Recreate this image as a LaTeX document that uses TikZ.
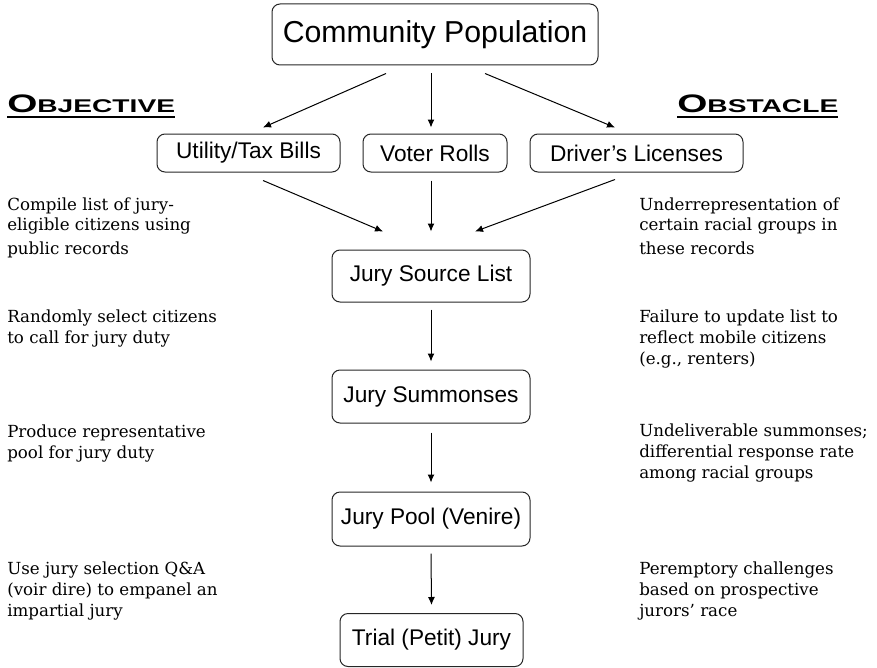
\documentclass[tikz,border=0pt]{standalone}
\usepackage{fontspec}
\usepackage{graphicx}
\setmainfont{DejaVu Serif}
\newfontfamily\boxfont{Liberation Sans}
\usetikzlibrary{arrows.meta,calc}

\newdimen\px \px=0.75pt
% underlined wide small-caps heading
\newcommand\headline[2]{\setbox0\hbox{\scalebox{1.53}[1]{\boxfont\bfseries\fontsize{19}{19}\selectfont #1\fontsize{13.8}{14}\selectfont #2}}%
  \rlap{\rule[-5.5\px]{\wd0}{2\px}}\box0}

\tikzset{
  stage/.style={draw=black!85, line width=1\px, rounded corners=8\px, inner sep=0pt,
    font=\boxfont\fontsize{17}{20}\selectfont},
  note/.style={anchor=base west, align=left, inner sep=0pt,
    font=\fontsize{12.5}{15.4}\selectfont},
  heading/.style={anchor=base west, inner sep=0pt},
  flow/.style={-{Latex[length=6pt,width=5.25pt]}, line width=0.75pt},
}

\begin{document}
\begin{tikzpicture}[x=1\px, y=-1\px]
        \useasboundingbox (0,0) rectangle (877,667);

        \node[stage, minimum width=326\px, minimum height=61\px, font=\boxfont\fontsize{22.7}{26}\selectfont] at (435, 34.5)(cp){Community Population};
        \node[stage, minimum width=183\px, minimum height=38\px] at (248.5, 153)(ut){Utility/Tax Bills};
        \node[stage, minimum width=144\px, minimum height=38\px] at (435, 153)(vr){Voter Rolls};
        \node[stage, minimum width=213\px, minimum height=38\px] at (636.5, 153)(dl){Driver’s Licenses};
        \node[stage, minimum width=198\px, minimum height=52\px] at (431, 276)(sl){Jury Source List};
        \node[stage, minimum width=198\px, minimum height=53\px] at (431, 396.5)(su){Jury Summonses};
        \node[stage, minimum width=198\px, minimum height=54\px] at (431, 519)(po){Jury Pool (Venire)};
        \node[stage, minimum width=183\px, minimum height=53\px] at (431.5, 640)(tr){Trial (Petit) Jury};

        \node[heading] at (7, 113)(objective){\headline{O}{BJECTIVE}};
        \node[heading] at (677, 113)(obstacle){\headline{O}{BSTACLE}};

        % base anchor sits on the last line
        \node[note] at (7, 254)(goal1){Compile list of jury-\\eligible citizens using\\[2pt]public records};
        \node[note] at (7, 343.5)(goal2){Randomly select citizens\\to call for jury duty};
        \node[note] at (7, 458.5)(goal3){Produce representative\\pool for jury duty};
        \node[note] at (7, 616)(goal4){Use jury selection Q\&A\\(voir dire) to empanel an\\impartial jury};

        \node[note] at (639, 254)(risk1){Underrepresentation of\\certain racial groups in\\[2pt]these records};
        \node[note] at (639, 364)(risk2){Failure to update list to\\reflect mobile citizens\\(e.g., renters)};
        \node[note] at (639, 478)(risk3){Undeliverable summonses;\\differential response rate\\among racial groups};
        \node[note] at (639, 616)(risk4){Peremptory challenges\\based on prospective\\jurors’ race};

        \path[flow]
        ($(cp.south)+(-49,8)$)edge($(ut.north)+(14.5,-6)$)
        ($(cp.south)+(-4,8)$)edge($(vr.north)+(-4,-6)$)
        ($(cp.south)+(50,8)$)edge($(dl.north)+(-21.5,-6)$)
        ($(ut.south)+(14.5,8)$)edge($(sl.north)+(-48,-18)$)
        ($(vr.south)+(-4,8)$)edge($(sl.north)+(0,-18)$)
        ($(dl.south)+(-21.5,7)$)edge($(sl.north)+(44,-18)$)
        ($(sl.south)+(0,7)$)edge($(su.north)+(0,-8)$)
        ($(su.south)+(0,9)$)edge($(po.north)+(0,-9)$)
        ($(po.south)+(0,7)$)edge($(tr.north)+(0,-8)$)
        ;
    \end{tikzpicture}
\end{document}
